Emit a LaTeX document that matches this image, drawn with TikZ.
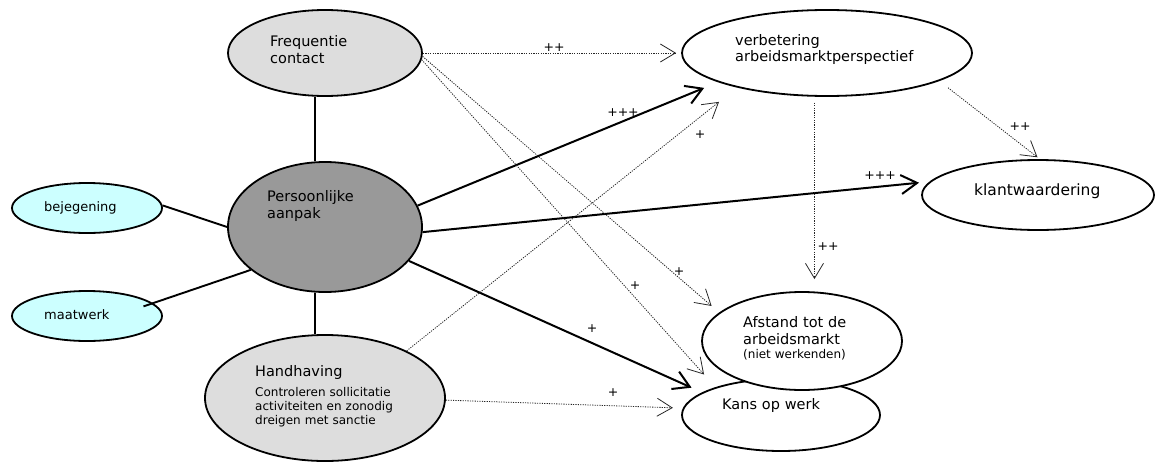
\documentclass[tikz,border=0pt]{standalone}
\usepackage{fontspec}
\setmainfont{DejaVu Sans}
\usepackage{tikz}
\usetikzlibrary{shapes.geometric,arrows.meta}
\definecolor{lichtgrijs}{HTML}{DDDDDD}
\definecolor{donkergrijs}{HTML}{999999}
\definecolor{lichtblauw}{HTML}{CCFFFF}

\begin{document}
\begin{tikzpicture}[x=1pt,y=-1pt,
  bol/.style={ellipse, draw, line width=1.8pt, inner sep=0pt},
  tekst/.style={inner sep=0pt, anchor=base west, align=left, text width=220pt,
    font=\fontsize{14.5}{17}\selectfont},
  klein/.style={font=\fontsize{12}{14}\selectfont},
  plus/.style={inner sep=0pt, font=\fontsize{12.5}{12.5}\selectfont},
  lijn/.style={line width=1.9pt},
  sterk/.style={line width=2pt, -{Straight Barb[length=16pt,width=19pt]}},
  zwak/.style={black!85, line width=0.8pt, dash pattern=on 1.2pt off 1.2pt,
    -{Straight Barb[length=15pt,width=18pt]}}]
  \useasboundingbox (0,0) rectangle (1158,463);

  % Ellipsen links
  \node[bol, fill=lichtgrijs, minimum width=194pt, minimum height=86pt] (freq) at (325,53) {};
  \node[tekst] (freqtxt) at (270,46) {Frequentie\\contact};
  \node[bol, fill=donkergrijs, minimum width=194pt, minimum height=130pt] (pers) at (325,227) {};
  \node[tekst] (perstxt) at (267,201) {Persoonlijke\\aanpak};
  \node[bol, fill=lichtblauw, minimum width=150pt, minimum height=50pt] (bej) at (87,208) {};
  \node[tekst, font=\fontsize{13}{15}\selectfont] (bejtxt) at (44,211) {bejegening};
  \node[bol, fill=lichtblauw, minimum width=150pt, minimum height=50pt] (maat) at (87,316) {};
  \node[tekst, font=\fontsize{13}{15}\selectfont] (maattxt) at (44,319) {maatwerk};
  \node[bol, fill=lichtgrijs, minimum width=240pt, minimum height=126pt] (hand) at (325,398) {};
  \node[tekst] (handtxt) at (255,376) {Handhaving};
  \node[tekst, klein] (handsub) at (255,396) {Controleren sollicitatie\\activiteiten en zonodig\\dreigen met sanctie};

  % Ellipsen rechts
  \node[bol, fill=white, minimum width=290pt, minimum height=86pt] (verb) at (827,53) {};
  \node[tekst] (verbtxt) at (735,45) {verbetering\\arbeidsmarktperspectief};
  \node[bol, fill=white, minimum width=232pt, minimum height=70pt] (klant) at (1038,195) {};
  \node[tekst, font=\fontsize{15.5}{18}\selectfont] (klanttxt) at (974,195) {klantwaardering};
  \node[bol, fill=white, minimum width=198pt, minimum height=72pt] (kans) at (781,415) {};
  \node[tekst] (kanstxt) at (722,409) {Kans op werk};
  \node[bol, fill=white, minimum width=200pt, minimum height=98pt] (afst) at (802,341) {};
  \node[tekst] (afsttxt) at (743,327) {Afstand tot de\\arbeidsmarkt};
  \node[tekst, klein] (afstsub) at (743,358) {(niet werkenden)};

  % Verbindingen zonder pijl
  \draw[lijn] (freq.south -| pers.99) -- (pers.99);
  \draw[lijn] (pers.261) -- (pers.261 |- hand.north);
  \draw[lijn] (bej.2) -- (pers.180);
  \draw[lijn, shorten <=-10pt] (maat.11) -- (pers.210);

  % Sterke effecten
  \draw[sterk, shorten >=15pt] (pers.13) -- (verb.195);
  \draw[sterk, shorten >=10.5pt] (pers.357) -- (klant.173);
  \draw[sterk, shorten >=11.5pt] (pers.338) -- (kans.164);

  % Zwakke effecten
  \draw[zwak, shorten >=5pt] (freq.east) -- (verb.west);
  \draw[zwak, shorten >=10pt] (freq.358) -- (afst.161);
  \draw[zwak, shorten >=17pt] (freq.356) -- (kans.157);
  \draw[zwak, shorten >=23pt] (hand.30) -- (verb.201);
  \draw[zwak, shorten >=10pt] (hand.359) -- (kans.176);
  \draw[zwak, shorten <=6pt, shorten >=12pt] (verb.254) -- (verb.254 |- afst.north);
  \draw[zwak, shorten <=11pt, shorten >=3pt] (verb.346) -- (klant.87);

  % Plussen
  \node[plus] (pfv) at (554,48) {++};
  \node[plus] (pfa) at (679,272) {+};
  \node[plus] (pfk) at (635,286) {+};
  \node[plus] (ppv) at (623,113) {+++};
  \node[plus] (ppk) at (880,176) {+++};
  \node[plus] (ppw) at (592,329) {+};
  \node[plus] (phv) at (700,135) {+};
  \node[plus] (phk) at (613,393) {+};
  \node[plus] (pva) at (828,247) {++};
  \node[plus] (pvk) at (1020,127) {++};
\end{tikzpicture}
\end{document}
